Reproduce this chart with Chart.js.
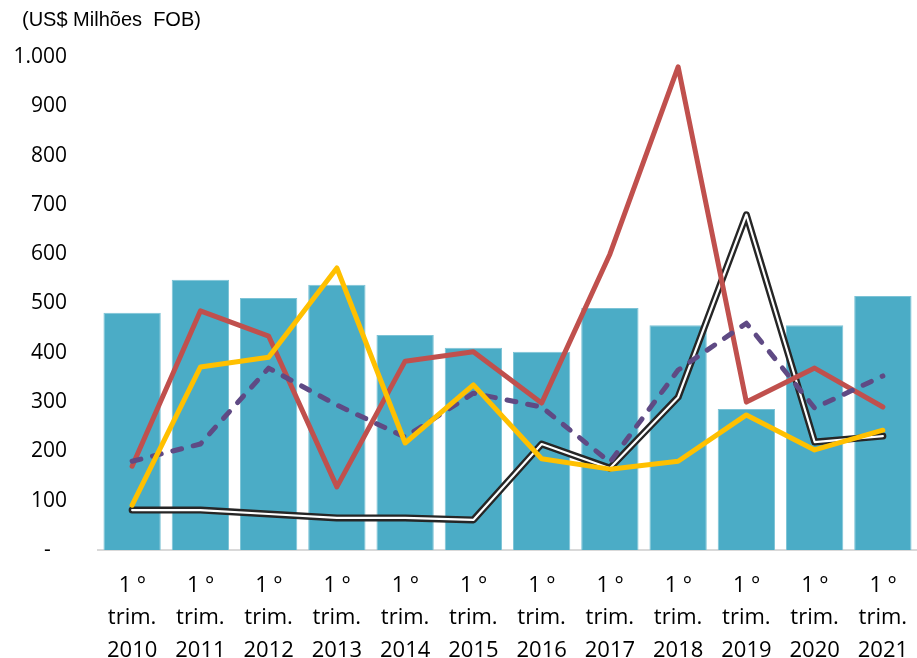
<!DOCTYPE html>
<html>
<head>
<meta charset="utf-8">
<script src="https://cdn.jsdelivr.net/npm/chart.js@4.4.1/dist/chart.umd.min.js"></script>
<style>
  html, body { margin: 0; padding: 0; background: #fff; }
  #wrap { width: 917px; height: 658px; position: relative; }
</style>
</head>
<body>
<div id="wrap"><canvas id="c"></canvas></div>
<script>
// Categories: first quarter of each year
const years = ['2010','2011','2012','2013','2014','2015','2016','2017','2018','2019','2020','2021'];
const categories = years.map(y => ['1 º', 'trim.', y]);

// Series values (US$ millions FOB)
const barValues    = [481, 548, 511, 538, 436, 410, 402, 491, 456, 286, 456, 515];
const redValues    = [170, 485, 434, 128, 383, 402, 298, 600, 980, 300, 369, 290];
const yellowValues = [ 91, 371, 391, 572, 217, 335, 185, 164, 180, 274, 203, 243];
const purpleValues = [180, 215, 369, 294, 229, 318, 290, 178, 365, 460, 288, 353];
const blackValues  = [ 81,  81,  73,  65,  65,  61, 215, 166, 310, 680, 219, 231];

// Y-axis tick values
const yTicks = [0, 100, 200, 300, 400, 500, 600, 700, 800, 900, 1000];
const unitLabel = '(US$ Milhões  FOB)';

const fmt = v => v === 0 ? '-   ' : v.toLocaleString('de-DE');

const unitPlugin = {
  id: 'unitLabel',
  afterDraw(chart) {
    const ctx = chart.ctx;
    ctx.save();
    ctx.font = '20px "Liberation Sans", Arial, sans-serif';
    ctx.fillStyle = '#000';
    ctx.textBaseline = 'middle';
    ctx.textAlign = 'left';
    ctx.fillText(unitLabel, 22, 20);
    ctx.restore();
  }
};

const lineBase = {
  type: 'line',
  pointRadius: 0,
  pointHoverRadius: 0,
  borderCapStyle: 'round',
  borderJoinStyle: 'round',
  tension: 0,
  fill: false
};

new Chart(document.getElementById('c'), {
  data: {
    labels: categories,
    datasets: [
      Object.assign({}, lineBase, { label: 'yellow', data: yellowValues, borderColor: '#FFC000', borderWidth: 5, order: 1 }),
      Object.assign({}, lineBase, { label: 'purple', data: purpleValues, borderColor: '#5F4A84', borderWidth: 5, borderDash: [9, 12], order: 2 }),
      Object.assign({}, lineBase, { label: 'red', data: redValues, borderColor: '#C0504D', borderWidth: 5, order: 3 }),
      Object.assign({}, lineBase, { label: 'black-inner', data: blackValues, borderColor: '#FFFFFF', borderWidth: 2.2, order: 4 }),
      Object.assign({}, lineBase, { label: 'black', data: blackValues, borderColor: '#262626', borderWidth: 7, order: 5 }),
      { type: 'bar', label: 'bars', data: barValues, backgroundColor: '#4BACC6', borderColor: '#7CC3D6', borderWidth: 1,
        categoryPercentage: 1, barPercentage: 0.84, order: 10 }
    ]
  },
  options: {
    responsive: true,
    maintainAspectRatio: false,
    animation: false,
    layout: { padding: { top: 57, right: -5, left: 0, bottom: 0 } },
    plugins: { legend: { display: false }, tooltip: { enabled: false } },
    scales: {
      x: {
        grid: { display: false },
        border: { display: true, color: '#D9D9D9', width: 2 },
        ticks: {
          color: '#000',
          font: { family: '"Open Sans", "Noto Sans", sans-serif', size: 22, lineHeight: 1.46 },
          maxRotation: 0, autoSkip: false, padding: 12
        },
        afterFit(axis) {
          axis.height = 108;
          axis.paddingLeft = 0;
          axis.paddingRight = 0;
        }
      },
      y: {
        min: 0, max: 1000,
        afterBuildTicks(axis) { axis.ticks = yTicks.map(v => ({ value: v })); },
        grid: { display: false },
        border: { display: false },
        ticks: {
          color: '#000',
          font: { family: '"Open Sans", "Noto Sans", sans-serif', size: 21 },
          padding: 23,
          callback: v => fmt(v)
        },
        afterFit(axis) { axis.width = 98; }
      }
    }
  },
  plugins: [unitPlugin]
});
</script>
</body>
</html>
